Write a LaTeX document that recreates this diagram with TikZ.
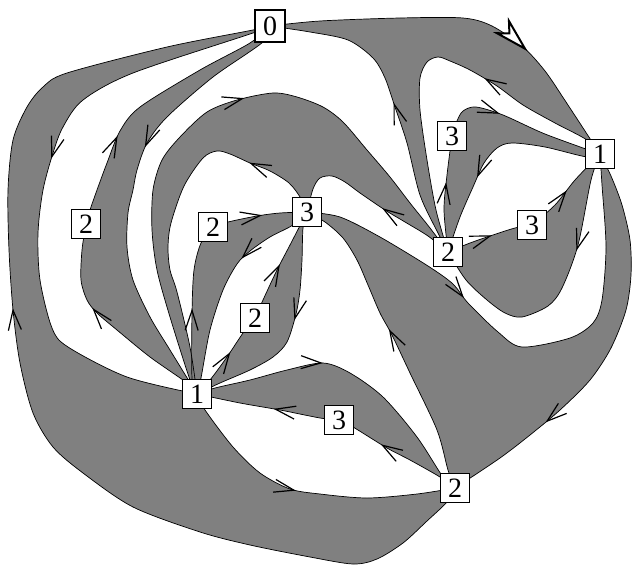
\documentclass[tikz,border=0pt]{standalone}
\usepackage{fontspec}
\setmainfont{Liberation Serif}
\usetikzlibrary{arrows.meta,decorations.markings}
\tikzset{
  facefill/.style={fill=black!50},
  edge/.style={draw=black,line width=0.7pt},
  arr/.style={postaction={decorate},decoration={markings,mark=at position #1 with {\arrow{Straight Barb[length=20pt,width=13pt,line width=1.2pt]}}}},
  bigarr/.style={postaction={decorate},decoration={markings,mark=at position #1 with {\arrow{Stealth[length=38pt,width=21pt,inset=11pt,line width=2pt,fill=white]}}}},
  nd/.style={draw=black,line width=0.6pt,fill=white,minimum width=29pt,minimum height=29pt,inner sep=0pt,font=\fontsize{28pt}{28pt}\selectfont},
}
\newcommand\GrayFace[3]{\edef\TmpFace{\noexpand\fill[facefill] plot[smooth] coordinates {#1} -- plot[smooth] coordinates {#2} -- plot[smooth] coordinates {#3} -- cycle;}\TmpFace}
\newcommand\DrawEdge[3][arr]{\edef\TmpEdge{\noexpand\draw[edge,#1=#3] plot[smooth] coordinates {#2};}\TmpEdge}
% edges (point lists, in direction of the arrow)
\def\EgA{(c0) (320,21) (400,18) (463,18) (492,26) (523,47) (545,71) (566,102) (cA1)}
\def\EgB{(cB2) (438,233) (420,195) (407,143) (395,107) (385,78) (373,58) (348,40) (310,32) (c0)}
\def\EgC{(cA1) (587,140) (555,123) (523,105) (497,86) (470,70) (450,61) (438,57) (427,62) (420,78) (420,110) (427,160) (436,210) (cB2)}
\def\EgD{(cC3) (457,121) (463,111) (476,107) (503,115) (545,134) (cA1)}
\def\EgE{(cB2) (444,210) (447,175) (cC3)}
\def\EgF{(cA1) (587,157) (545,147) (512,143) (497,148) (484,163) (473,187) (460,217) (cB2)}
\def\EgG{(cB2) (470,243) (493,235) (515,228) (cD3)}
\def\EgH{(cD3) (555,205) (575,180) (cA1)}
\def\EgI{(cA1) (591,180) (578,245) (562,288) (548,306) (522,317) (505,313) (487,300) (466,280) (cB2)}
\def\EgJ{(cE3) (340,217) (380,237) (428,266) (453,284) (468,303) (498,332) (522,347) (570,338) (593,323) (602,300) (606,247) (602,185) (cA1)}
\def\EgK{(cA1) (611,176) (622,205) (630,240) (631,275) (626,310) (611,348) (590,380) (560,410) (530,435) (500,458) (cK2)}
\def\EgL{(cK2) (448,470) (437,430) (410,373) (392,335) (380,313) (368,285) (357,260) (343,238) (325,222) (cE3)}
\def\EgM{(cB2) (428,236) (405,222) (385,210) (360,193) (345,182) (332,176) (320,178) (313,189) (cE3)}
\def\EgN{(cI1) (190,380) (170,317) (157,270) (152,230) (153,190) (162,160) (180,137) (207,112) (237,100) (273,93) (297,97) (323,107) (343,122) (367,150) (390,177) (410,203) (430,228) (cB2)}
\def\EgO{(cE3) (300,197) (289,183) (270,171) (250,163) (230,154) (217,151) (203,158) (184,186) (171,223) (168,247) (170,270) (177,292) (190,347) (cI1)}
\def\EgP{(cK2) (447,502) (427,521) (403,543) (377,559) (353,564) (310,557) (250,545) (200,532) (133,507) (83,473) (53,447) (33,413) (20,363) (13,310) (9,250) (8,190) (13,140) (27,107) (43,87) (67,73) (167,47) (253,30) (c0)}
\def\EgQ{(c0) (253,33) (133,73) (83,100) (63,127) (53,153) (43,190) (38,233) (40,280) (52,328) (68,347) (127,377) (cI1)}
\def\EgR{(cF2) (90,210) (97,190) (107,163) (120,131) (140,107) (200,70) (250,43) (c0)}
\def\EgS{(cI1) (187,383) (150,357) (117,330) (97,313) (87,300) (81,280) (82,250) (cF2)}
\def\EgT{(c0) (263,42) (213,77) (167,117) (147,143) (137,170) (133,190) (128,213) (127,247) (133,280) (150,317) (170,350) (cI1)}
\def\EgU{(cI1) (205,410) (233,447) (260,473) (290,489) (320,494) (367,498) (417,494) (cK2)}
\def\EgV{(cI1) (192,378) (192,313) (194,270) (201,243) (cG2)}
\def\EgW{(cG2) (228,222) (257,216) (280,213) (cE3)}
\def\EgX{(cE3) (293,225) (270,237) (250,251) (237,264) (223,290) (210,330) (201,378) (cI1)}
\def\EgY{(cI1) (210,380) (227,357) (243,333) (cH2)}
\def\EgZ{(cH2) (263,300) (277,270) (290,245) (cE3)}
\def\EgAA{(cE3) (303,228) (302,260) (300,290) (296,314) (287,342) (273,357) (250,370) (220,383) (cI1)}
\def\EgAB{(cI1) (215,388) (250,380) (287,370) (323,363) (350,373) (383,397) (417,437) (443,477) (cK2)}
\def\EgAC{(cJ3) (320,418) (280,410) (240,403) (cI1)}
\def\EgAD{(cK2) (440,477) (410,460) (387,448) (353,427) (cJ3)}
\begin{document}
\begin{tikzpicture}[x=1pt,y=-1pt]
\useasboundingbox (0,0) rectangle (632,565);
\coordinate (c0) at (270,26);
\coordinate (cA1) at (600,154);
\coordinate (cB2) at (448,252);
\coordinate (cC3) at (452,136);
\coordinate (cD3) at (532,225);
\coordinate (cE3) at (307,212);
\coordinate (cF2) at (86,224);
\coordinate (cG2) at (213,227);
\coordinate (cH2) at (255,318);
\coordinate (cI1) at (197,394);
\coordinate (cJ3) at (339,420);
\coordinate (cK2) at (455,488);
% gray faces
\GrayFace{\EgA}{\EgC}{\EgB}
\GrayFace{\EgD}{\EgF}{\EgE}
\GrayFace{\EgG}{\EgH}{\EgI}
\GrayFace{\EgJ}{\EgK}{\EgL}
\GrayFace{\EgN}{\EgM}{\EgO}
\GrayFace{\EgV}{\EgW}{\EgX}
\GrayFace{\EgY}{\EgZ}{\EgAA}
\GrayFace{\EgAB}{\EgAD}{\EgAC}
\GrayFace{\EgQ}{\EgU}{\EgP}
\GrayFace{\EgT}{\EgS}{\EgR}
% edges
\DrawEdge[bigarr]{\EgA}{0.68}
\DrawEdge{\EgB}{0.50}
\DrawEdge{\EgC}{0.35}
\DrawEdge{\EgD}{0.38}
\DrawEdge{\EgE}{0.60}
\DrawEdge{\EgF}{0.64}
\DrawEdge{\EgG}{0.53}
\DrawEdge{\EgH}{0.50}
\DrawEdge{\EgI}{0.34}
\DrawEdge{\EgJ}{0.36}
\DrawEdge{\EgK}{0.73}
\DrawEdge{\EgL}{0.54}
\DrawEdge{\EgM}{0.42}
\DrawEdge{\EgN}{0.56}
\DrawEdge{\EgO}{0.21}
\DrawEdge{\EgP}{0.565}
\DrawEdge{\EgQ}{0.445}
\DrawEdge{\EgR}{0.33}
\DrawEdge{\EgS}{0.61}
\DrawEdge{\EgT}{0.40}
\DrawEdge{\EgU}{0.47}
\DrawEdge{\EgV}{0.50}
\DrawEdge{\EgW}{0.53}
\DrawEdge{\EgX}{0.36}
\DrawEdge{\EgY}{0.56}
\DrawEdge{\EgZ}{0.50}
\DrawEdge{\EgAA}{0.46}
\DrawEdge{\EgAB}{0.41}
\DrawEdge{\EgAC}{0.46}
\DrawEdge{\EgAD}{0.64}
% nodes
\node[nd,line width=2pt,minimum width=30pt,minimum height=32pt] (n0) at (c0) {0};
\node[nd] (nA1) at (cA1) {1};
\node[nd] (nB2) at (cB2) {2};
\node[nd] (nC3) at (cC3) {3};
\node[nd] (nD3) at (cD3) {3};
\node[nd] (nE3) at (cE3) {3};
\node[nd] (nF2) at (cF2) {2};
\node[nd] (nG2) at (cG2) {2};
\node[nd] (nH2) at (cH2) {2};
\node[nd] (nI1) at (cI1) {1};
\node[nd] (nJ3) at (cJ3) {3};
\node[nd] (nK2) at (cK2) {2};
\end{tikzpicture}
\end{document}
